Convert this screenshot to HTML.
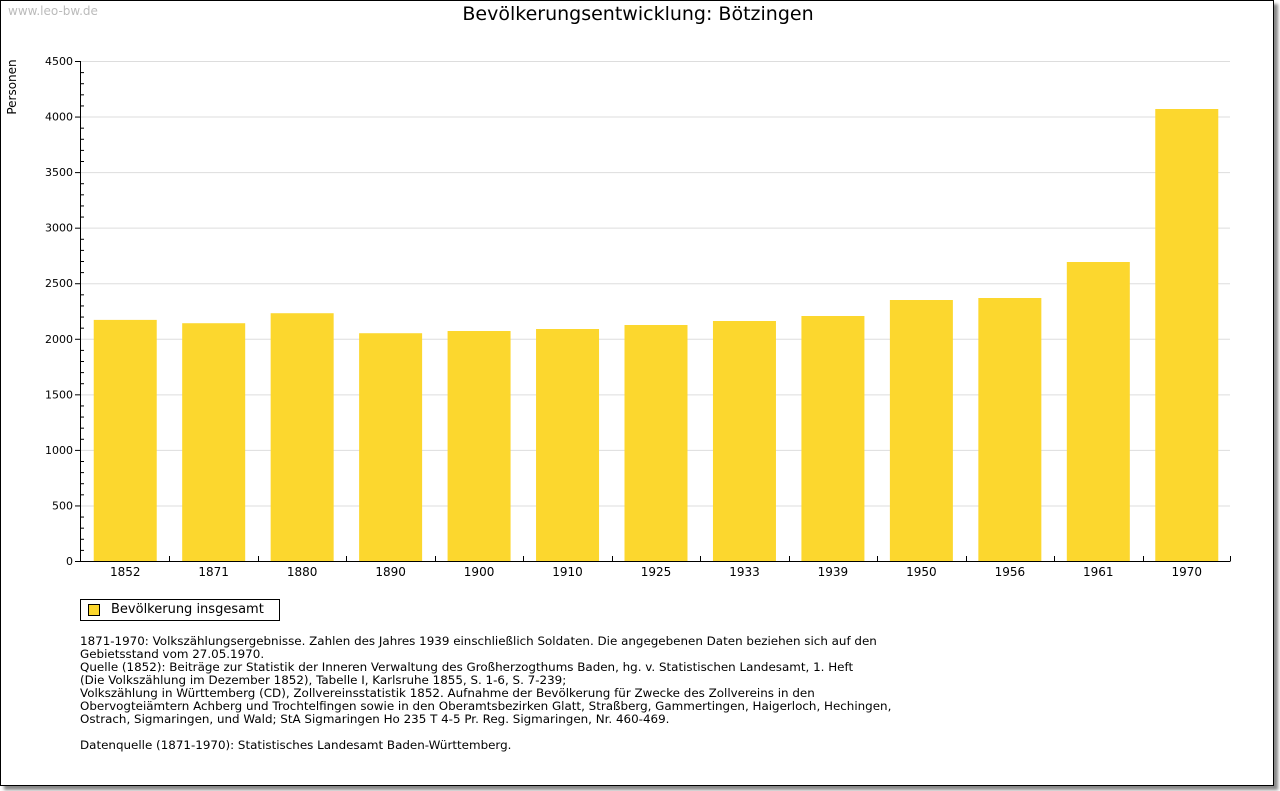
<!DOCTYPE html>
<html><head><meta charset="utf-8"><style>
body{margin:0;background:#fff;width:1280px;height:791px;overflow:hidden;font-family:"DejaVu Sans","Liberation Sans",sans-serif}
#frame{position:absolute;left:0;top:0;width:1272px;height:784px;border:1px solid #000;box-shadow:4px 4px 3px #888;background:#fff}
.t{position:absolute;white-space:nowrap}
</style></head><body>
<div id="frame"></div>
<div class="t" style="left:8px;top:4px;font-size:12px;color:#bbb">www.leo-bw.de</div>
<div class="t" style="left:0;width:1276px;text-align:center;top:3px;font-size:19px;color:#000">Bevölkerungsentwicklung: Bötzingen</div>
<svg id="chart" width="1280" height="600" style="position:absolute;left:0;top:0">
<text x="16" y="87" transform="rotate(-90 16 87)" text-anchor="middle" font-size="12" fill="#000">Personen</text>
</svg>
<div class="t" style="left:80px;top:599px;width:198px;height:20px;border:1px solid #000;font-size:13px;line-height:20px">
<span style="position:absolute;left:7px;top:4px;width:10px;height:10px;background:#fcd72e;border:1px solid #000"></span>
<span style="position:absolute;left:30px;top:0">Bevölkerung insgesamt</span></div>
<div class="t" style="left:80px;top:635px;font-size:11.9px;line-height:13px;color:#000">1871-1970: Volkszählungsergebnisse. Zahlen des Jahres 1939 einschließlich Soldaten. Die angegebenen Daten beziehen sich auf den<br>Gebietsstand vom 27.05.1970.<br>Quelle (1852): Beiträge zur Statistik der Inneren Verwaltung des Großherzogthums Baden, hg. v. Statistischen Landesamt, 1. Heft<br>(Die Volkszählung im Dezember 1852), Tabelle I, Karlsruhe 1855, S. 1-6, S. 7-239;<br>Volkszählung in Württemberg (CD), Zollvereinsstatistik 1852. Aufnahme der Bevölkerung für Zwecke des Zollvereins in den<br>Obervogteiämtern Achberg und Trochtelfingen sowie in den Oberamtsbezirken Glatt, Straßberg, Gammertingen, Haigerloch, Hechingen,<br>Ostrach, Sigmaringen, und Wald; StA Sigmaringen Ho 235 T 4-5 Pr. Reg. Sigmaringen, Nr. 460-469.<br><br>Datenquelle (1871-1970): Statistisches Landesamt Baden-Württemberg.</div>
<script>
const categories=["1852","1871","1880","1890","1900","1910","1925","1933","1939","1950","1956","1961","1970"];
const values=[2170,2140,2230,2050,2070,2088,2124,2160,2205,2349,2367,2691,4068];
const yTicks=[0,500,1000,1500,2000,2500,3000,3500,4000,4500];
const svg=document.getElementById('chart');
const NS='http://www.w3.org/2000/svg';
const L=80,R=1230,T=61,B=561,YMAX=4500;
const y=v=>B-(v/YMAX)*(B-T);
const bw=(R-L)/categories.length;
const x=i=>L+1+i*bw;
function mk(tag,a){const e=document.createElementNS(NS,tag);for(const k in a)e.setAttribute(k,a[k]);svg.appendChild(e);return e;}
yTicks.forEach(v=>{
 if(v>0){const g=mk('line',{x1:L,x2:R,y1:y(v)+0.5,y2:y(v)+0.5,stroke:'#ddd'});
 
 }
 const t=mk('text',{x:L-7,y:y(v)+4,'text-anchor':'end','font-size':'11',fill:'#000'});
 t.textContent=v;
 
 
});
for(let v=0;v<=YMAX;v+=100){const m=mk('line',{x1:L,x2:(v%500?L+4:L-5),y1:y(v)+0.5,y2:y(v)+0.5,stroke:'#000'});
 
 }
categories.forEach((c,i)=>{
 const w=63,bx=x(i)+(bw-w)/2;
 const r=mk('rect',{x:bx,y:y(values[i]),width:w,height:B-y(values[i]),fill:'#fcd72e'});
 
 
 const t=mk('text',{x:x(i)+bw/2,y:B+15,'text-anchor':'middle','font-size':'12',fill:'#000'});
 t.textContent=c;
 
 
 if(i>0){const k=mk('line',{x1:Math.round(x(i))+0.5,x2:Math.round(x(i))+0.5,y1:B-5,y2:B,stroke:'#000'});
 
 }
});
const ax=mk('line',{x1:L+0.5,x2:L+0.5,y1:T,y2:B+0.5,stroke:'#000'});


const bx=mk('line',{x1:L,x2:R+0.5,y1:B+0.5,y2:B+0.5,stroke:'#000'});


const rk=mk('line',{x1:R+0.5,x2:R+0.5,y1:B-5,y2:B,stroke:'#000'});


</script>
</body></html>
